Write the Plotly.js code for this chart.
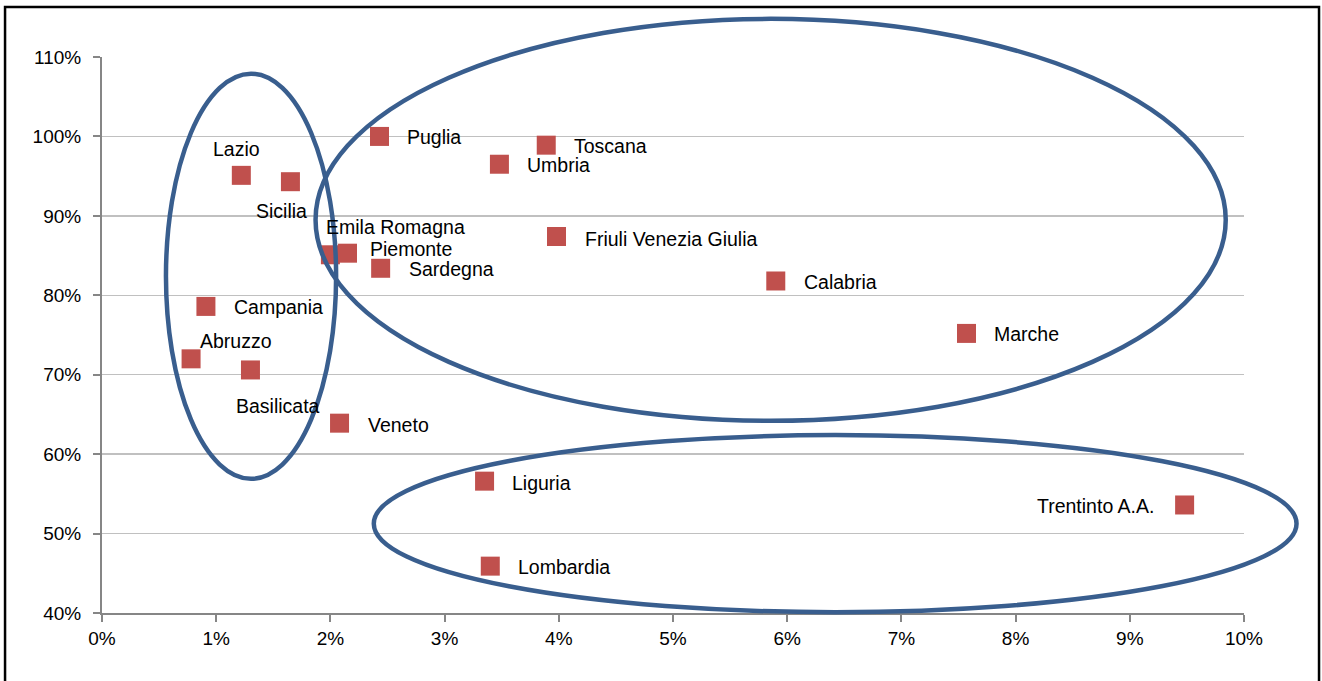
<!DOCTYPE html>
<html>
<head>
<meta charset="utf-8">
<script src="https://cdn.plot.ly/plotly-3.0.1.min.js"></script>
<style>html,body{margin:0;padding:0;background:#fff;}#chart{width:1322px;height:681px;}</style>
</head>
<body>
<div id="chart"></div>
<script>
// Data (x and y in percent)
const regions = ["Lazio","Sicilia","Puglia","Toscana","Umbria","Emila Romagna","Piemonte","Sardegna","Friuli Venezia Giulia","Calabria","Marche","Campania","Abruzzo","Basilicata","Veneto","Liguria","Lombardia","Trentinto A.A."];
const xVals = [1.22,1.65,2.43,3.89,3.48,2.00,2.15,2.44,3.98,5.90,7.57,0.91,0.78,1.30,2.08,3.35,3.40,9.48];
const yVals = [95.1,94.3,100.0,98.9,96.5,85.1,85.3,83.4,87.4,81.8,75.2,78.6,72.0,70.6,63.9,56.6,45.9,53.6];
const xTicks = [0,1,2,3,4,5,6,7,8,9,10];
const yTicks = [40,50,60,70,80,90,100,110];

// label placement styles (anchor, xshift px, yshift px)
const labelStyle = {
  "Lazio":["center",-5,26],
  "Sicilia":["center",-9,-29],
  "Puglia":["left",25,-1],
  "Toscana":["left",26,-1],
  "Umbria":["left",26,-1],
  "Emila Romagna":["left",-6,28],
  "Piemonte":["left",20,4],
  "Sardegna":["left",26,-1],
  "Friuli Venezia Giulia":["left",26,-2],
  "Calabria":["left",26,-1],
  "Marche":["left",26,-1],
  "Campania":["left",26,-1],
  "Abruzzo":["left",7,18],
  "Basilicata":["center",28,-36],
  "Veneto":["left",26,-2],
  "Liguria":["left",25,-2],
  "Lombardia":["left",26,-1],
  "Trentinto A.A.":["right",-29,-1]
};

const XR = [0,10], YR = [40,110];
const px = v => (v - XR[0])/(XR[1]-XR[0]);
const py = v => (v - YR[0])/(YR[1]-YR[0]);

function ellipse(x0,x1,y0,y1){
  return {type:"circle", xref:"paper", yref:"paper", x0:px(x0), x1:px(x1), y0:py(y0), y1:py(y1),
          line:{color:"#395E8E", width:4.5}, layer:"above"};
}

const FONT = "Liberation Sans, Arial";
const annotations = regions.map((r,i)=>{
  const s = labelStyle[r];
  return {x:xVals[i], y:yVals[i], xref:"x", yref:"y", text:r, showarrow:false,
          xanchor:s[0], yanchor:"middle", xshift:s[1], yshift:s[2],
          font:{family:FONT, size:19.5, color:"#000"}};
});

const trace = {
  x:xVals, y:yVals, text:regions, type:"scatter", mode:"markers",
  marker:{symbol:"square", size:19, color:"#C0504D", line:{width:0}},
  cliponaxis:false, hoverinfo:"text"
};

const layout = {
  width:1322, height:681,
  margin:{l:102, r:78, t:57, b:68},
  paper_bgcolor:"#fff", plot_bgcolor:"#fff",
  showlegend:false,
  font:{family:FONT, size:19, color:"#000"},
  xaxis:{range:XR, tickvals:xTicks, ticktext:xTicks.map(v=>v+"%"),
         showgrid:false, zeroline:false, showline:true, linecolor:"#868686", linewidth:2,
         ticks:"outside", ticklen:7, tickwidth:2, tickcolor:"#868686",
         tickfont:{size:19, family:FONT}, fixedrange:true},
  yaxis:{range:YR, tickvals:yTicks, ticktext:yTicks.map(v=>v+"%"),
         showgrid:true, gridcolor:"#C0C0C0", gridwidth:1.5, zeroline:false,
         showline:true, linecolor:"#868686", linewidth:2,
         ticks:"outside", ticklen:7, tickwidth:2, tickcolor:"#868686",
         ticklabelstandoff:8,
         tickfont:{size:19, family:FONT}, fixedrange:true},
  shapes:[
    ellipse(0.56,2.05,56.9,107.9),
    ellipse(1.87,9.84,64.2,114.8),
    ellipse(2.38,10.46,40.1,62.4),
    {type:"rect", xref:"paper", yref:"paper", x0:-0.0849, x1:1.0657, y0:-0.2, y1:1.0899,
     line:{color:"#000", width:2.5}, layer:"above"}
  ],
  annotations:annotations
};

Plotly.newPlot("chart", [trace], layout, {displayModeBar:false, staticPlot:true});
</script>
</body>
</html>
